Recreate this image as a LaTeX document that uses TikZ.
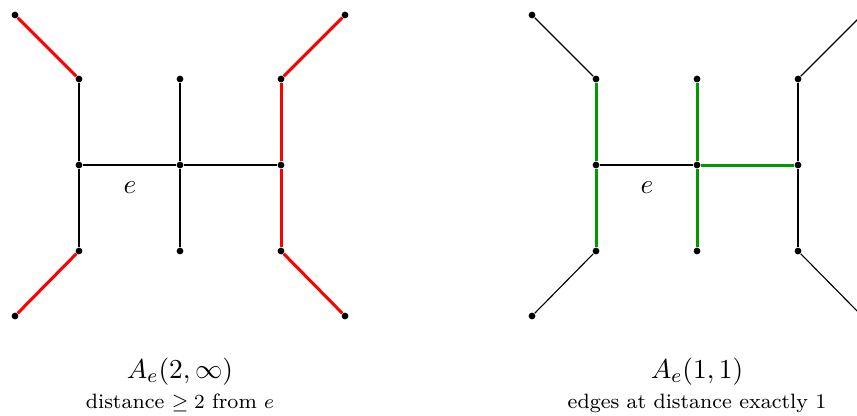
\documentclass[tikz,border=0pt]{standalone}
\definecolor{eggreen}{RGB}{0,153,0}
\newcommand{\graphnodes}[2]{% #1 prefix, #2 x offset
  \begin{scope}[xshift=#2*0.4pt]
  \node[dot] (#1a) at (15,15) {};
  \node[dot] (#1b) at (79,79) {};
  \node[dot] (#1c) at (180,79) {};
  \node[dot] (#1d) at (281,79) {};
  \node[dot] (#1f) at (345,15) {};
  \node[dot] (#1g) at (79,165) {};
  \node[dot] (#1h) at (180,165) {};
  \node[dot] (#1i) at (281,165) {};
  \node[dot] (#1j) at (79,251) {};
  \node[dot] (#1k) at (180,251) {};
  \node[dot] (#1l) at (281,251) {};
  \node[dot] (#1m) at (15,316) {};
  \node[dot] (#1n) at (345,316) {};
  \node[lab] (#1e) at (130,188) {$e$};
  \end{scope}}
\begin{document}
\begin{tikzpicture}[x=0.4pt,y=-0.4pt,
  dot/.style={circle,fill=black,inner sep=0pt,minimum size=2.7pt},
  plain/.style={line width=0.45pt,black},
  redge/.style={line width=1.2pt,red},
  gedge/.style={line width=1.2pt,eggreen},
  lab/.style={inner sep=0pt,font=\fontsize{10.8}{13}\selectfont},
  captext/.style={inner sep=0pt,anchor=base,font=\fontsize{10.8}{13}\selectfont},
  subtext/.style={inner sep=0pt,anchor=base,font=\fontsize{8.3}{10}\selectfont}]
\useasboundingbox (0,0) rectangle (857,415);
\clip (0,0) rectangle (857,415);
% left graph
\graphnodes{L}{0}
\draw[redge] (La) -- (Lb);
\draw[redge] (Lm) -- (Lj);
\draw[redge] (Ld) -- (Lf);
\draw[redge] (Ll) -- (Ln);
\draw[redge] (Ld) -- (Li);
\draw[redge] (Li) -- (Ll);
\draw[plain] (Lb) -- (Lg);
\draw[plain] (Lg) -- (Lj);
\draw[plain] (Lc) -- (Lh);
\draw[plain] (Lh) -- (Lk);
\draw[plain] (Lg) -- (Lh);
\draw[plain] (Lh) -- (Li);
\node[captext] (Lcap) at (180,378) {$A_e(2,\infty)$};
\node[subtext] (Lsub) at (180,408) {distance $\geq 2$ from $e$};
% right graph
\graphnodes{R}{517}
\draw[plain] (Ra) -- (Rb);
\draw[plain] (Rm) -- (Rj);
\draw[plain] (Rd) -- (Rf);
\draw[plain] (Rl) -- (Rn);
\draw[plain] (Rd) -- (Ri);
\draw[plain] (Ri) -- (Rl);
\draw[gedge] (Rb) -- (Rg);
\draw[gedge] (Rg) -- (Rj);
\draw[gedge] (Rc) -- (Rh);
\draw[gedge] (Rh) -- (Rk);
\draw[plain] (Rg) -- (Rh);
\draw[gedge] (Rh) -- (Ri);
\node[captext] (Rcap) at (697,378) {$A_e(1,1)$};
\node[subtext] (Rsub) at (697,408) {edges at distance exactly 1};
\end{tikzpicture}
\end{document}
